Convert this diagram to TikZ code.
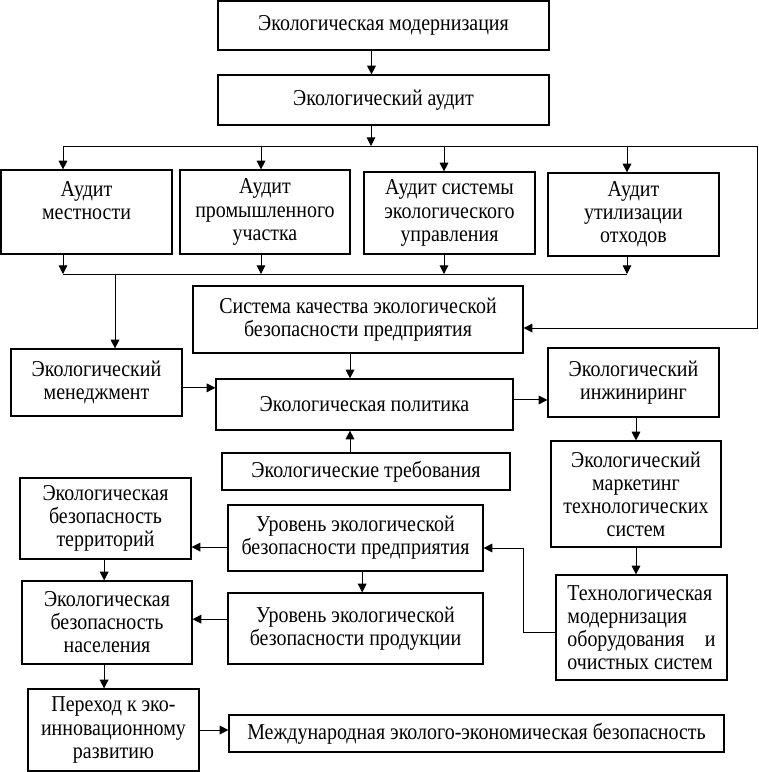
\documentclass[tikz,border=0pt]{standalone}
\usepackage{fontspec}
\setmainfont{Liberation Serif}[FakeStretch=0.88]
\usetikzlibrary{arrows.meta}

\begin{document}
\begin{tikzpicture}
[x=0.75pt, y=-0.75pt, font=\fontsize{17}{17.3}\selectfont,
  box/.style 2 args={draw, line width=0.9pt, align=center, inner sep=0pt,
    minimum width=#1*0.75pt, minimum height=#2*0.75pt},
  line width=0.75pt, >={Triangle[length=6.5pt, width=6.5pt]}]
\useasboundingbox (0,0) rectangle (758,772);

\node[box={331}{49}] (modern) at (383.5,25.5) {Экологическая модернизация};
\node[box={331}{50}] (audit) at (383.5,100) {Экологический аудит};
\node[box={171}{84}] (mestn) at (86.5,212) {Аудит\\местности\\~};
\node[box={170}{84}] (prom) at (265,212) {Аудит\\промышленного\\участка};
\node[box={171}{82}] (sist) at (449.5,213) {Аудит системы\\экологического\\управления};
\node[box={171}{83}] (util) at (633.5,214.5) {Аудит\\утилизации\\отходов};
\node[box={330}{67}] (kach) at (358,319.5) {Система качества экологической\\безопасности предприятия};
\node[box={171}{67}] (menedzh) at (96.5,382.5) {Экологический\\менеджмент};
\node[box={297}{51}] (polit) at (364.5,404.5) {Экологическая политика};
\node[box={171}{69}] (inzh) at (633.5,382.5) {Экологический\\инжиниринг};
\node[box={288}{37}] (treb) at (366,471.5) {Экологические требования};
\node[box={170}{106}] (market) at (636,494) {Экологический\\маркетинг\\технологических\\систем};
\node[box={171}{105}, align=left] (tehn) at (641.5,627.5) {Технологическая\\модернизация\\оборудования\kern0.9em и\\очистных систем};
\node[box={171}{81}] (territ) at (105.5,518.5) {Экологическая\\безопасность\\территорий};
\node[box={255}{66}] (urpred) at (355.5,538) {Уровень экологической\\безопасности предприятия};
\node[box={170}{83}] (nasel) at (107,622.5) {Экологическая\\безопасность\\населения};
\node[box={255}{71}] (urprod) at (355.5,628.5) {Уровень экологической\\безопасности продукции};
\node[box={171}{82}] (perehod) at (113.5,730) {Переход к эко-\\инновационному\\развитию};
\node[box={495}{37}] (mezhd) at (476.5,733.5) {Международная эколого-экономическая безопасность};

% buses
\coordinate (topM) at (371,146);
\coordinate (topR) at (757,146);
\coordinate (botM) at (115,274);
\coordinate (tbend) at (523,548);
\foreach \i/\x in {1/63,2/261,3/444,4/627}{
  \coordinate (top\i) at (\x,146);
  \coordinate (bot\i) at (\x,274);
}

\draw[->] ([xshift=-9pt]modern.south) -- ([xshift=-9pt]audit.north);
\draw[->] (audit.south -| topM) -- (topM);
\draw (top1) -- (topR);
\draw (bot1) -- (bot4);
\foreach \i/\n in {1/mestn,2/prom,3/sist,4/util}{
  \draw[->] (top\i) -- (top\i |- \n.north);
  \draw[->] (bot\i |- \n.south) -- (bot\i);
}
\draw[->] (topR) |- ([yshift=-6.4pt]kach.east);
\draw[->] (botM) -- (botM |- menedzh.north);
\draw[->] ([xshift=-6pt]kach.south) -- ([xshift=-6pt]kach.south |- polit.north);
\draw[->] ([xshift=-12pt]treb.north) -- ([xshift=-12pt]treb.north |- polit.south);
\draw[->] ([yshift=-4pt]menedzh.east) -- ([yshift=-4pt]menedzh.east -| polit.west);
\draw[->] ([yshift=3.4pt]polit.east) -- ([yshift=3.4pt]polit.east -| inzh.west);
\draw[->] (inzh.south -| market.north) -- (market.north);
\draw[->] (market.south) -- (market.south |- tehn.north);
\draw[->] ([yshift=-3.4pt]tehn.west) -| (tbend) -- (tbend -| urpred.east);
\draw[->] ([yshift=-6.8pt]urpred.west) -- ([yshift=-6.8pt]urpred.west -| territ.east);
\draw[->] ([xshift=-1pt]territ.south) -- ([xshift=-1pt]territ.south |- nasel.north);
\draw[->] ([xshift=5pt]urpred.south) -- ([xshift=5pt]urpred.south |- urprod.north);
\draw[->] ([yshift=7pt]urprod.west) -- ([yshift=7pt]urprod.west -| nasel.east);
\draw[->] ([xshift=-2.2pt]nasel.south) -- ([xshift=-2.2pt]nasel.south |- perehod.north);
\draw[->] (perehod.east) -- (perehod.east -| mezhd.west);
\end{tikzpicture}
\end{document}
